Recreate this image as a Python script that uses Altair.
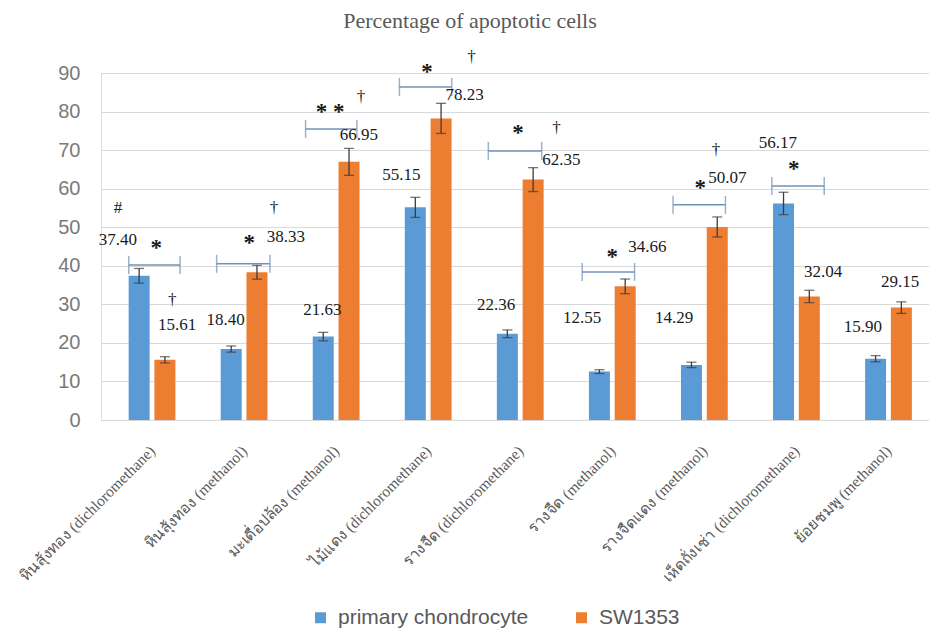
import json
import altair as alt
import pandas as pd

# ---------------- data ----------------
categories = [
    "หินสุ้งทอง (dichloromethane)",
    "หินสุ้งทอง (methanol)",
    "มะเดื่อปล้อง (methanol)",
    "ไม้แดง (dichloromethane)",
    "รางจืด (dichloromethane)",
    "รางจืด (methanol)",
    "รางจืดแดง (methanol)",
    "เห็ดถั่งเช่า (dichloromethane)",
    "ย้อยชมพู (methanol)",
]
series_names = ["primary chondrocyte", "SW1353"]
primary = [37.40, 18.40, 21.63, 55.15, 22.36, 12.55, 14.29, 56.17, 15.90]
sw1353 = [15.61, 38.33, 66.95, 78.23, 62.35, 34.66, 50.07, 32.04, 29.15]
err_primary = [1.9, 0.8, 1.1, 2.6, 1.0, 0.5, 0.7, 2.9, 0.8]
err_sw = [0.8, 1.8, 3.5, 3.9, 3.1, 1.9, 2.6, 1.6, 1.5]

# value-label anchor points (category units, data units)
lab_x_primary = [-0.371, 0.799, 1.850, 2.709, 3.739, 4.673, 5.671, 6.798, 7.721]
lab_y_primary = [46.7, 25.9, 28.5, 63.5, 29.8, 26.5, 26.5, 71.8, 24.1]
lab_x_sw = [0.273, 1.453, 2.247, 3.396, 4.447, 5.381, 6.250, 7.291, 8.128]
lab_y_sw = [24.6, 47.5, 73.9, 84.3, 67.4, 44.9, 62.8, 38.4, 35.8]

# significance marks
star_text = ["*", "*", "* *", "*", "*", "*", "*", "*"]
star_x = [0.047, 1.056, 1.936, 2.988, 3.975, 5.000, 5.955, 6.970]
star_y = [45.9, 47.2, 81.2, 91.5, 75.7, 43.6, 61.5, 66.4]
dag_text = ["#", "†", "†", "†", "†", "†", "†"]
dag_x = [-0.371, 0.219, 1.324, 2.269, 3.471, 4.394, 6.127]
dag_y = [54.9, 31.1, 55.0, 83.8, 94.1, 75.7, 70.0]

# comparison brackets
br_x1 = [-0.253, 0.702, 1.668, 2.687, 3.653, 4.673, 5.660, 6.733]
br_x2 = [0.305, 1.281, 2.226, 3.256, 4.233, 5.242, 6.229, 7.302]
br_y = [40.2, 40.5, 75.5, 86.4, 69.8, 38.4, 55.8, 60.7]

# ---------------- tables ----------------
rows = []
for i in range(len(categories)):
    rows.append(dict(idx=i, pos=i - 0.14, series=series_names[0], value=primary[i],
                     lo=primary[i] - err_primary[i], hi=primary[i] + err_primary[i]))
    rows.append(dict(idx=i, pos=i + 0.14, series=series_names[1], value=sw1353[i],
                     lo=sw1353[i] - err_sw[i], hi=sw1353[i] + err_sw[i]))
bars_df = pd.DataFrame(rows)

labels_df = pd.DataFrame(
    dict(x=lab_x_primary + lab_x_sw, y=lab_y_primary + lab_y_sw,
         text=[f"{v:.2f}" for v in primary] + [f"{v:.2f}" for v in sw1353])
)
stars_df = pd.DataFrame(dict(x=star_x, y=star_y, text=star_text))
dags_df = pd.DataFrame(dict(x=dag_x, y=dag_y, text=dag_text))
br_df = pd.DataFrame(dict(x1=br_x1, x2=br_x2, y=br_y))

W, H = 828, 347
x_scale = alt.Scale(domain=[-0.5, 8.386], nice=False, zero=False)
y_scale = alt.Scale(domain=[0, 90], nice=False)

cat_arr = json.dumps(categories, ensure_ascii=False)

x_axis = alt.Axis(
    values=list(range(len(categories))),
    labelExpr=f"{cat_arr}[round(datum.value)]",
    labelAngle=315, labelAlign="right", labelBaseline="middle",
    labelFont="Liberation Serif", labelFontSize=15.5, labelColor="#595959",
    labelPadding=28, labelLimit=400, labelOverlap=False,
    ticks=False, grid=False, domain=True, domainColor="#d9d9d9", title=None,
)
y_axis = alt.Axis(
    values=list(range(0, 100, 10)), grid=True, gridColor="#d9d9d9", gridWidth=1,
    ticks=False, domain=False, labelFont="Liberation Sans", labelFontSize=20,
    labelColor="#7a7a7a", labelPadding=21, title=None, labelOverlap=False,
)


def X(field):
    return alt.X(field, type="quantitative", scale=x_scale, axis=x_axis)


def Y(field):
    return alt.Y(field, type="quantitative", scale=y_scale, axis=y_axis)


base = alt.Chart(bars_df)

bars = base.mark_bar(orient="vertical", size=21).encode(
    x=X("pos"),
    y=Y("value"),
    color=alt.Color(
        "series:N",
        scale=alt.Scale(domain=series_names, range=["#5B9BD5", "#ED7D31"]),
        legend=alt.Legend(
            orient="none", legendX=209, legendY=534, direction="horizontal",
            symbolType="square", symbolSize=121, symbolStrokeWidth=0,
            labelFont="Liberation Sans", labelFontSize=21, labelColor="#595959",
            columnPadding=42, labelOffset=7, labelLimit=400, title=None,
        ),
    ),
)

err_col = "#3c3c3c"
err_rule = base.mark_rule(color=err_col, strokeWidth=1.3).encode(
    x=X("pos"), y=Y("lo"), y2="hi:Q"
)
cap_lo = base.mark_tick(orient="horizontal", size=10, thickness=1.3, color=err_col).encode(
    x=X("pos"), y=Y("lo")
)
cap_hi = base.mark_tick(orient="horizontal", size=10, thickness=1.3, color=err_col).encode(
    x=X("pos"), y=Y("hi")
)

labels = alt.Chart(labels_df).mark_text(
    font="Liberation Serif", fontSize=17, color="#1a1a1a", baseline="middle"
).encode(x=X("x"), y=Y("y"), text="text:N")

stars = alt.Chart(stars_df).mark_text(
    font="Liberation Serif", fontSize=23, fontWeight="bold", color="#1a1a1a",
    baseline="middle", dy=5
).encode(x=X("x"), y=Y("y"), text="text:N")

dags = alt.Chart(dags_df).mark_text(
    font="Liberation Serif", fontSize=17, color="#1a1a1a", baseline="middle"
).encode(x=X("x"), y=Y("y"), text="text:N")

br_col = "#6E93B8"
br_line = alt.Chart(br_df).mark_rule(color=br_col, strokeWidth=1.5).encode(
    x=X("x1"), x2="x2:Q", y=Y("y")
)
br_t1 = alt.Chart(br_df).mark_tick(orient="vertical", size=18, thickness=1.5, color=br_col).encode(
    x=X("x1"), y=Y("y")
)
br_t2 = alt.Chart(br_df).mark_tick(orient="vertical", size=18, thickness=1.5, color=br_col).encode(
    x=X("x2"), y=Y("y")
)

chart = alt.layer(
    bars, err_rule, cap_lo, cap_hi, br_line, br_t1, br_t2, labels, stars, dags
).properties(
    width=W, height=H,
    title=alt.TitleParams(
        "Percentage of apoptotic cells", font="Liberation Serif", fontSize=22,
        fontWeight="normal", color="#595959", anchor="middle", frame="group",
        offset=15, dx=-45,
    ),
    autosize=alt.AutoSizeParams(type="none"),
    padding={"left": 93, "top": 65, "right": 0, "bottom": 210},
).configure_view(stroke=None).configure(background="white")

chart.save("out.html", embed_options={"renderer": "svg", "actions": False})
